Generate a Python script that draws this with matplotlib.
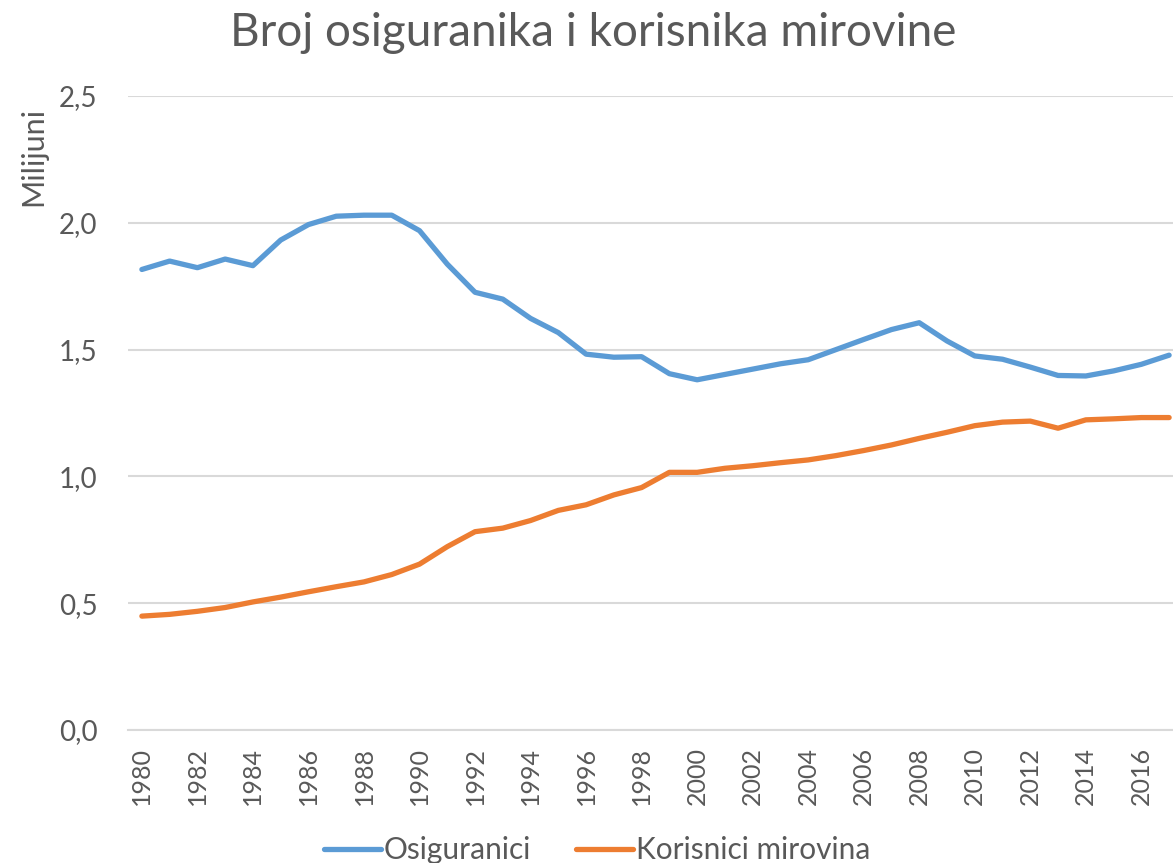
#!/usr/bin/env python3
# -*- coding: utf-8 -*-
"""
Broj osiguranika i korisnika mirovine, 1980-2017.
"""

import numpy as np
import matplotlib
matplotlib.use("Agg")
import matplotlib.pyplot as plt
from matplotlib.ticker import FuncFormatter

plt.rcParams['font.family'] = ['Lato', 'DejaVu Sans']

### data (milijuni)
years = list(range(1980, 2018))

osiguranici = [1.816, 1.849, 1.823, 1.857, 1.831, 1.932, 1.993, 2.026, 2.030, 2.030,
               1.969, 1.837, 1.726, 1.699, 1.623, 1.567, 1.482, 1.470, 1.472, 1.405,
               1.381, 1.402, 1.423, 1.444, 1.460, 1.500, 1.540, 1.579, 1.606, 1.534,
               1.475, 1.462, 1.431, 1.398, 1.396, 1.416, 1.442, 1.478]

korisnici = [0.449, 0.456, 0.468, 0.483, 0.505, 0.524, 0.545, 0.565, 0.584, 0.613,
             0.654, 0.723, 0.782, 0.796, 0.826, 0.866, 0.888, 0.927, 0.956, 1.016,
             1.016, 1.032, 1.042, 1.054, 1.065, 1.082, 1.102, 1.124, 1.150, 1.174,
             1.200, 1.214, 1.218, 1.190, 1.223, 1.227, 1.232, 1.232]

series_names = ['Osiguranici', 'Korisnici mirovina']
y_ticks = [0.0, 0.5, 1.0, 1.5, 2.0, 2.5]
x_ticks = list(range(1980, 2017, 2))

### figure
W, H = 1173, 863
fig = plt.figure(figsize=(W / 100, H / 100), dpi=100)

# axes slightly wider than figure: the original is cut off on the right
x0, x1 = 128, 1183
y0, y1 = 730, 96
ax = fig.add_axes([x0 / W, 1 - y0 / H, (x1 - x0) / W, (y0 - y1) / H])

text_c = '#595959'
grid_c = '#D9D9D9'

l1, = ax.plot(years, osiguranici, color='#5B9BD5', lw=3.8, solid_capstyle='round',
              solid_joinstyle='round', label=series_names[0])
l2, = ax.plot(years, korisnici, color='#ED7D31', lw=3.8, solid_capstyle='round',
              solid_joinstyle='round', label=series_names[1])

ax.set_xlim(1979.5, 2017.5)
ax.set_ylim(0, 2.5)
ax.set_yticks(y_ticks)
ax.set_xticks(x_ticks)
ax.yaxis.set_major_formatter(FuncFormatter(lambda v, p: f"{v:.1f}".replace('.', ',')))
ax.set_xticklabels([str(y) for y in x_ticks], rotation=90)

ax.grid(axis='y', color=grid_c, lw=1.5)
ax.set_axisbelow(True)
for s in ['top', 'right', 'left']:
    ax.spines[s].set_visible(False)
ax.spines['bottom'].set_color(grid_c)
ax.spines['bottom'].set_linewidth(1.5)
ax.tick_params(axis='both', length=0, colors=text_c)
ax.tick_params(axis='y', labelsize=20, pad=22)
ax.tick_params(axis='x', labelsize=18, pad=12)

# title + y label
fig.text(593 / W, 1 - 33 / H, 'Broj osiguranika i korisnika mirovine', ha='center', va='center',
         fontsize=33, color=text_c)
fig.text(33 / W, 1 - 156 / H, 'Milijuni', rotation=90, ha='center', va='center',
         fontsize=22, color=text_c)

# legend
leg = fig.legend(handles=[l1, l2], loc='center', bbox_to_anchor=(597 / W, 1 - 850 / H),
                 ncol=2, frameon=False, fontsize=21.5, handlelength=1.9, handletextpad=0.1,
                 columnspacing=1.5, borderaxespad=0)
for t in leg.get_texts():
    t.set_color(text_c)

fig.savefig('out.png', dpi=100)
plt.close()
